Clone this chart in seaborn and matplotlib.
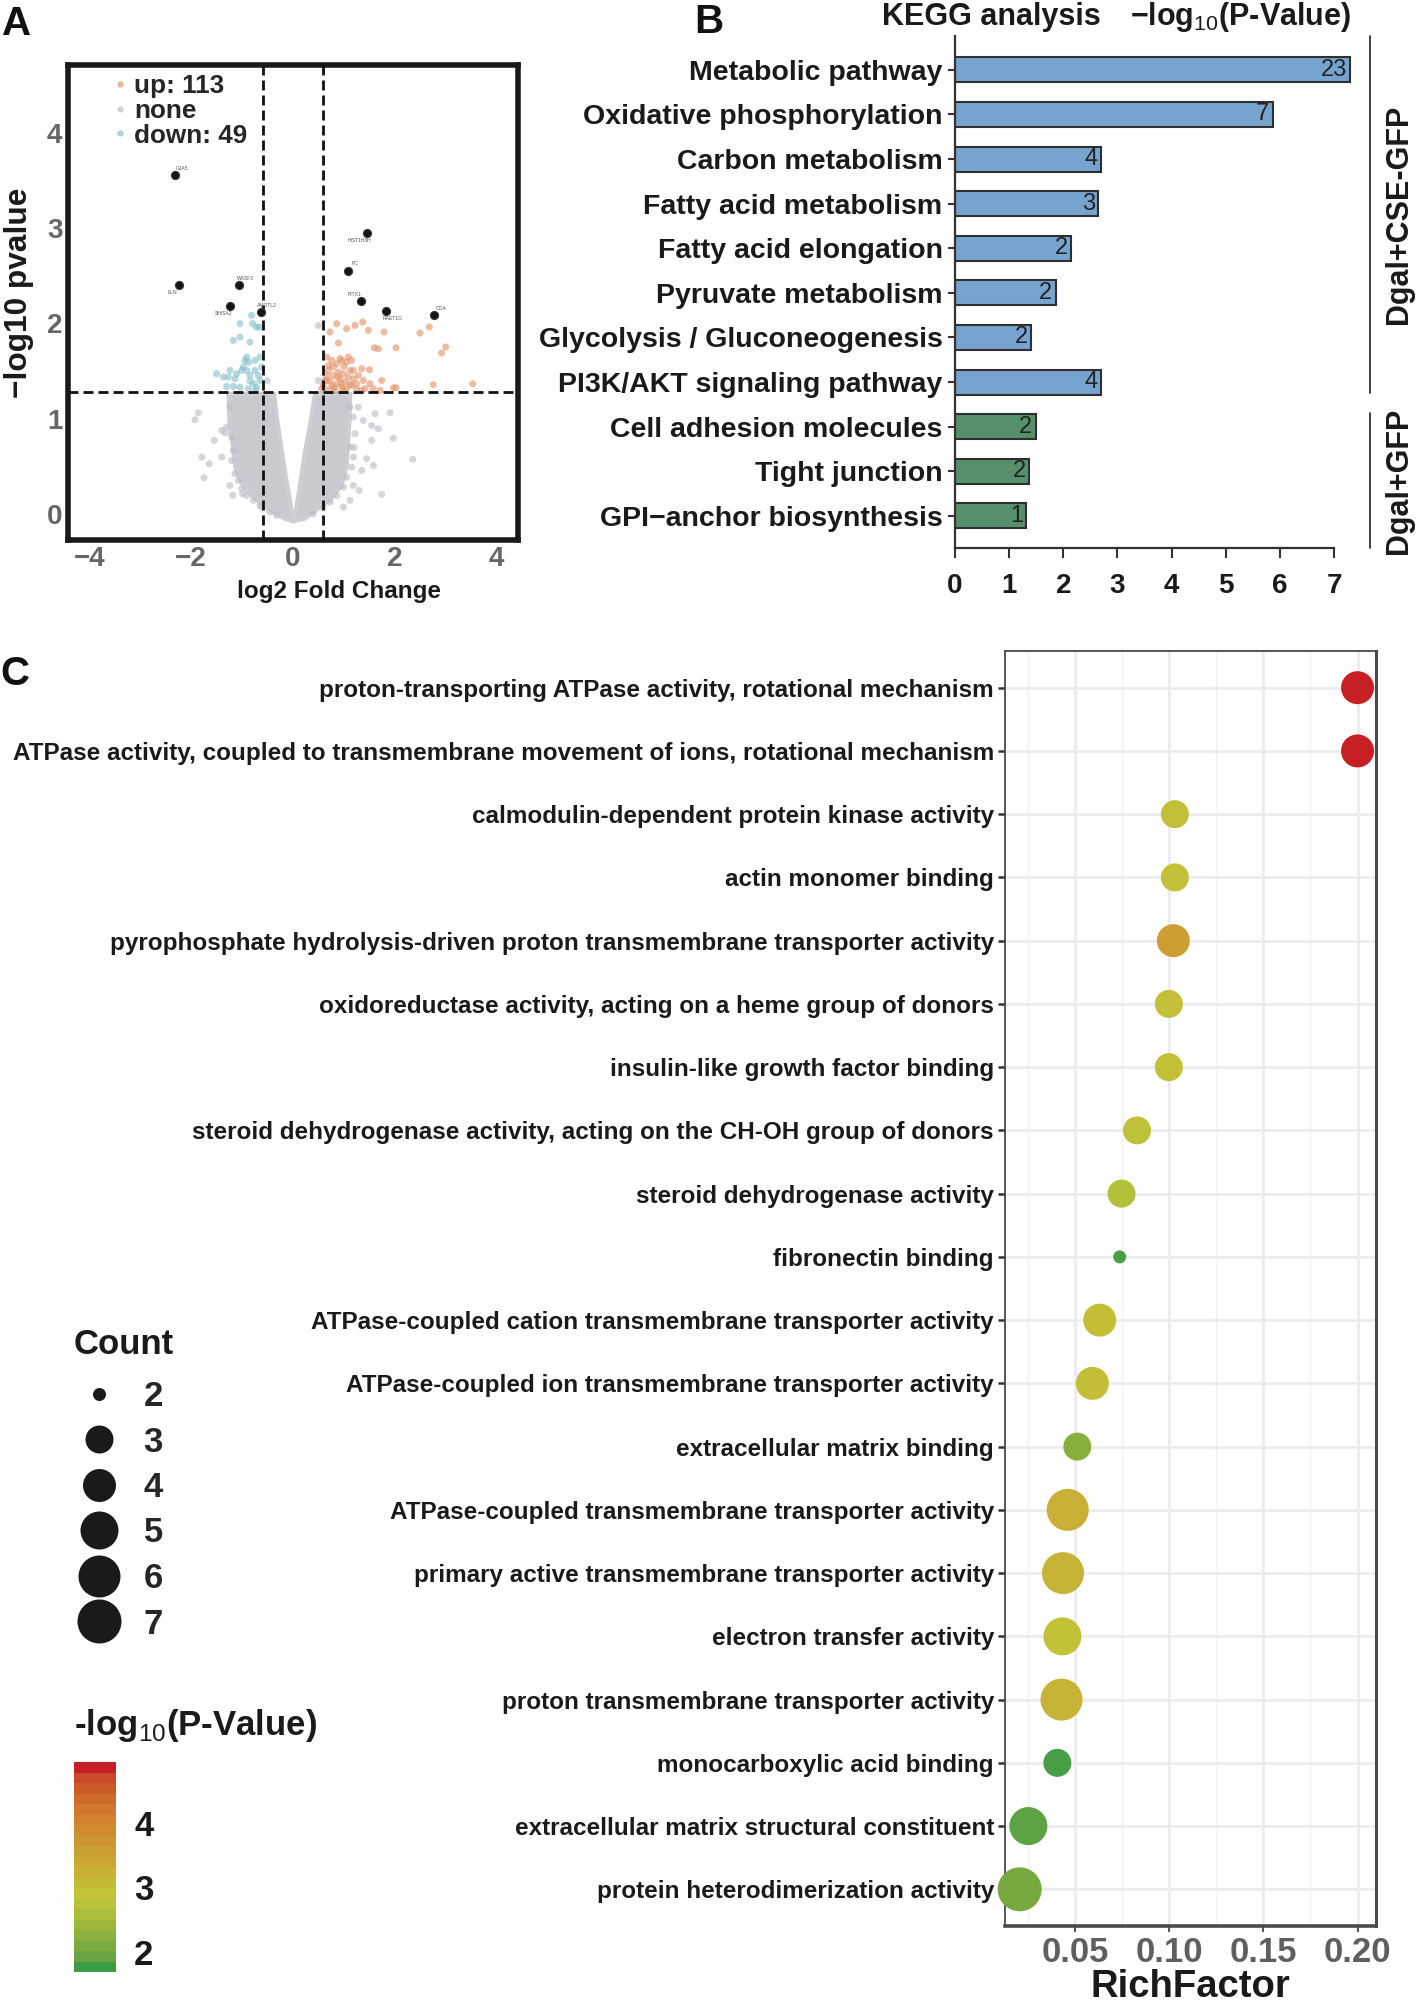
import matplotlib
matplotlib.use("Agg")
import matplotlib.pyplot as plt
import pandas as pd
import seaborn as sns
from matplotlib.colors import LinearSegmentedColormap, Normalize
from matplotlib.cm import ScalarMappable
from matplotlib.lines import Line2D

W, H = 1422, 2005

# ---------------- A: volcano ----------------
fc_cut = 0.585
p_cut = 1.28
n_up, n_down = 113, 49

up_x = [0.727, 0.858, 1.054, 1.218, 1.369, 1.480, 1.788, 2.495, 2.678, 1.598, 1.676, 2.024,
        0.891, 2.921, 2.999, 2.757, 3.530, 1.971, 2.024, 1.742, 1.513, 1.578, 1.709,
        0.661, 0.760, 0.858, 0.956, 1.054, 1.153, 1.185, 1.349, 1.500, 0.694, 0.792, 0.891,
        0.989, 1.087, 1.185, 1.284, 1.382, 0.661, 0.760, 0.858, 0.956, 1.054, 1.153, 1.251,
        1.349, 0.694, 0.825, 0.923, 1.022, 1.120, 0.792, 0.596, 0.661, 0.563, 0.989, 1.251,
        1.415, 1.087, 0.923, 0.73, 0.88, 1.00, 0.62, 0.80, 1.12, 0.70, 0.95]
up_y = [1.910, 1.998, 1.945, 1.980, 2.015, 1.928, 1.910, 1.900, 1.963, 1.746, 1.735, 1.746,
        1.795, 1.690, 1.753, 1.358, 1.368, 1.326, 1.326, 1.403, 1.368, 1.316, 1.298,
        1.648, 1.613, 1.578, 1.613, 1.595, 1.613, 1.508, 1.526, 1.515, 1.508, 1.456, 1.491,
        1.473, 1.438, 1.421, 1.456, 1.403, 1.403, 1.351, 1.368, 1.333, 1.316, 1.351, 1.316,
        1.298, 1.298, 1.298, 1.421, 1.386, 1.508, 1.543, 1.351, 1.456, 1.316, 1.298, 1.368,
        1.316, 1.648, 1.631, 1.40, 1.44, 1.55, 1.40, 1.33, 1.36, 1.56, 1.37]

down_x = [-0.812, -1.041, -0.662, -0.792, -1.172, -1.041, -0.845, -0.943, -0.878, -0.747,
          -0.648, -1.500, -1.369, -1.238, -1.271, -1.139, -0.976, -0.910, -0.845, -0.747,
          -0.681, -0.648, -1.172, -1.041, -0.878, -0.780, -0.714, -0.845, -1.303, -1.008,
          -0.615, -1.106, -0.910, -0.714, -0.74]
down_y = [2.085, 1.998, 1.962, 1.998, 1.823, 1.857, 1.805, 1.613, 1.595, 1.613,
          1.648, 1.473, 1.438, 1.508, 1.438, 1.421, 1.543, 1.508, 1.456, 1.508,
          1.456, 1.403, 1.340, 1.333, 1.316, 1.369, 1.333, 1.396, 1.340, 1.508,
          1.543, 1.473, 1.648, 1.962, 1.30]

# loose non-significant points around and along the edge of the dense cloud
none_x = [-1.86, -1.925, -1.546, -1.40, -1.79, -1.647, -1.40, -1.75, -1.24, -0.99, -0.648,
          1.906, 1.611, 1.676, 1.971, 1.545, 1.447, 2.351, 1.742, 1.349, 1.185, 1.283,
          1.381, 1.546, 1.12, 0.988, 1.578, 0.498, -0.505, 0.50, -1.33, -1.18, 1.20, 1.30,
          -1.238, -1.303, -1.205, -1.172, -1.205, -1.139, -1.074, -1.009, -0.910, -0.779,
          -0.616, -0.452, -0.321, 1.120, 1.185, 1.218, 1.120, 1.185, 1.153, 1.054, 0.989,
          0.858, 0.727, 0.596, 0.399]
none_y = [1.064, 0.990, 0.774, 0.879, 0.599, 0.529, 0.599, 0.383, 0.302, 0.215, 0.092,
          1.064, 1.054, 0.897, 0.798, 0.774, 0.582, 0.578, 0.208, 0.459, 0.302, 1.123,
          0.984, 0.931, 0.145, 0.075, 0.512, 1.98, 1.40, 1.40, 0.85, 0.20, 0.70, 0.25,
          1.124, 0.914, 0.809, 0.669, 0.564, 0.424, 0.354, 0.267, 0.197, 0.145,
          0.075, 0.022, -0.013, 1.124, 1.019, 0.844, 0.704, 0.599, 0.494, 0.389, 0.285,
          0.197, 0.127, 0.075, 0.005]

# dense part of the non-significant cloud, traced as two outlines (the V arms)
left_arm_x = [-1.27, -1.25, -1.19, -1.13, -0.98, -0.76, -0.50, -0.15, 0.0,
              -0.05, -0.14, -0.23, -0.31, -0.37]
left_arm_y = [1.26, 0.98, 0.74, 0.49, 0.30, 0.17, 0.06, -0.05, -0.07,
              0.11, 0.39, 0.70, 0.98, 1.26]
right_arm_x = [0.0, 0.22, 0.50, 0.76, 0.95, 1.05, 1.08, 1.11, 1.12,
               0.43, 0.35, 0.25, 0.16, 0.08]
right_arm_y = [-0.07, -0.05, 0.06, 0.17, 0.30, 0.49, 0.74, 0.98, 1.26,
               1.26, 0.98, 0.70, 0.39, 0.11]

genes = ["GJA5", "ELN", "WASF3", "SHISA2", "AMOTL2", "HIST1H3H", "PC", "PITX1", "RAET1G", "CGA"]
gene_x = [-2.318, -2.24, -1.067, -1.231, -0.635, 1.447, 1.087, 1.336, 1.821, 2.777]
gene_y = [3.553, 2.407, 2.40, 2.186, 2.116, 2.945, 2.553, 2.232, 2.13, 2.088]
gene_offset = [(4.8, 4.8), (-4.8, -5.8), (5, 4.8), (-4.6, -5.3), (4.3, 5),
               (-5.3, -5), (4.8, 5), (-4.6, 5), (4.6, -5), (4.6, 4.6)]

# ---------------- B: KEGG ----------------
kegg_terms = ["Metabolic pathway", "Oxidative phosphorylation", "Carbon metabolism",
              "Fatty acid metabolism", "Fatty acid elongation", "Pyruvate metabolism",
              "Glycolysis / Gluconeogenesis", "PI3K/AKT signaling pathway",
              "Cell adhesion molecules", "Tight junction", "GPI\u2212anchor biosynthesis"]
kegg_logp = [7.30, 5.87, 2.70, 2.65, 2.15, 1.86, 1.41, 2.70, 1.49, 1.37, 1.32]
kegg_count = [23, 7, 4, 3, 2, 2, 2, 4, 2, 2, 1]
kegg_group = ["Dgal+CSE-GFP"] * 8 + ["Dgal+GFP"] * 3

# ---------------- C: GO dot plot ----------------
go_terms = [
    "proton-transporting ATPase activity, rotational mechanism",
    "ATPase activity, coupled to transmembrane movement of ions, rotational mechanism",
    "calmodulin-dependent protein kinase activity",
    "actin monomer binding",
    "pyrophosphate hydrolysis-driven proton transmembrane transporter activity",
    "oxidoreductase activity, acting on a heme group of donors",
    "insulin-like growth factor binding",
    "steroid dehydrogenase activity, acting on the CH-OH group of donors",
    "steroid dehydrogenase activity",
    "fibronectin binding",
    "ATPase-coupled cation transmembrane transporter activity",
    "ATPase-coupled ion transmembrane transporter activity",
    "extracellular matrix binding",
    "ATPase-coupled transmembrane transporter activity",
    "primary active transmembrane transporter activity",
    "electron transfer activity",
    "proton transmembrane transporter activity",
    "monocarboxylic acid binding",
    "extracellular matrix structural constituent",
    "protein heterodimerization activity",
]
go_rich = [0.200, 0.200, 0.103, 0.103, 0.1022, 0.0998, 0.0998, 0.0829, 0.0747, 0.0737,
           0.0631, 0.0592, 0.0512, 0.0461, 0.0436, 0.0433, 0.0428, 0.0406, 0.0252, 0.0206]
go_logp = [4.96, 4.96, 2.95, 2.95, 3.57, 2.95, 2.95, 2.80, 2.65, 1.72,
           3.00, 3.00, 2.17, 3.27, 3.20, 2.90, 3.20, 1.72, 1.82, 2.00]
go_count = [4, 4, 3, 3, 4, 3, 3, 3, 3, 2, 4, 4, 3, 6, 6, 5, 6, 3, 5, 7]

# ---------------- style ----------------
sns.set_style("white")
plt.rcParams["font.family"] = ["Liberation Sans", "DejaVu Sans"]
plt.rcParams["mathtext.fontset"] = "custom"
plt.rcParams["mathtext.rm"] = "Liberation Sans"

grad_colors = ["#3e9c46", "#68a542", "#7aab40", "#8cb13d", "#9cb73c", "#abbd3a", "#b9c238",
               "#c2c337", "#c5ba36", "#c8b135", "#cba834", "#cc9f33", "#ce9632", "#cf8c30",
               "#d0822f", "#cf772e", "#ce6a2c", "#cc5b2a", "#c94a28", "#c62025"]
cmap = LinearSegmentedColormap.from_list("gyr", grad_colors)
p_lo, p_hi = 1.68, 4.96
diam_px = {2: 13, 3: 28, 4: 33, 5: 38, 6: 42, 7: 44}
size_map = {k: (v / 1.389) ** 2 for k, v in diam_px.items()}

fig = plt.figure(figsize=(W / 100, H / 100), dpi=100)


def fax(left, top, right, bottom):
    return fig.add_axes([left / W, 1 - bottom / H, (right - left) / W, (bottom - top) / H])


# ===== Panel A =====
axA = fax(68, 65, 518, 540)
dfA = pd.DataFrame({
    "log2fc": none_x + up_x + down_x,
    "logp": none_y + up_y + down_y,
    "group": ["none"] * len(none_x) + ["up"] * len(up_x) + ["down"] * len(down_x),
})
pal_A = {"up": "#e3946a", "none": "#bcbcc6", "down": "#86c0cb"}
axA.fill(left_arm_x, left_arm_y, color="#c9c9d0", lw=3, ec="#cdcdd4", zorder=1)
axA.fill(right_arm_x, right_arm_y, color="#c9c9d0", lw=3, ec="#cdcdd4", zorder=1)
sns.scatterplot(data=dfA, x="log2fc", y="logp", hue="group", palette=pal_A, s=26,
                alpha=0.62, linewidth=0, legend=False, ax=axA, zorder=2)
sns.scatterplot(x=gene_x, y=gene_y, color="#151515", s=34, edgecolor="#3a3a3a",
                linewidth=0.8, legend=False, ax=axA, zorder=4)
for g, gx, gy, off in zip(genes, gene_x, gene_y, gene_offset):
    axA.annotate(g, (gx, gy), xytext=off, textcoords="offset points", ha="center",
                 va="center", fontsize=3.6, color="#555555", zorder=5)
dash = (0, (3.6, 1.8))
for xv in (-fc_cut, fc_cut):
    axA.axvline(xv, color="#111111", lw=2, ls=dash, zorder=3)
axA.axhline(p_cut, color="#111111", lw=2, ls=dash, zorder=3)
axA.set_xlim(-4.42, 4.42)
axA.set_ylim(-0.27, 4.71)
axA.set_xticks([-4, -2, 0, 2, 4])
axA.set_yticks([0, 1, 2, 3, 4])
axA.set_xticklabels(["\u22124", "\u22122", "0", "2", "4"])
axA.tick_params(labelsize=20, labelcolor="#666666", color="#8a8a8a", length=4, width=2,
                direction="inout", pad=2)
for t in axA.get_xticklabels() + axA.get_yticklabels():
    t.set_fontweight("bold")
for sp in axA.spines.values():
    sp.set_visible(True)
    sp.set_linewidth(4)
    sp.set_color("#1a1a1a")
axA.set_xlabel("log2 Fold Change", fontsize=17.5, fontweight="bold", color="#1a1a1a")
axA.xaxis.set_label_coords((339 - 68) / 450, -0.085)
axA.set_ylabel("\u2212log10 pvalue", fontsize=22.8, fontweight="bold", color="#1a1a1a")
axA.yaxis.set_label_coords(-0.075, 0.52)
handA = [Line2D([], [], marker="o", ls="", color=pal_A[k], alpha=0.6, markersize=3.5)
         for k in ("up", "none", "down")]
axA.legend(handA, [f"up: {n_up}", "none", f"down: {n_down}"], loc="upper left",
           bbox_to_anchor=(112 / W, 1 - 74 / H), bbox_transform=fig.transFigure,
           frameon=False, prop={"weight": "bold", "size": 18.8}, labelspacing=0.03,
           handlelength=0.6, handletextpad=0.25, borderpad=0, borderaxespad=0)

# ===== Panel B =====
axB = fax(955, 36, 1353, 548)
dfB = pd.DataFrame({"term": kegg_terms, "logp": kegg_logp, "group": kegg_group})
sns.barplot(data=dfB, x="logp", y="term", hue="group", order=kegg_terms,
            palette={"Dgal+CSE-GFP": "#69a5dc", "Dgal+GFP": "#4c9a69"}, dodge=False,
            width=0.56, edgecolor="#2f2f2f", linewidth=1.5, legend=False, orient="h", ax=axB)
for i, (v, c) in enumerate(zip(kegg_logp, kegg_count)):
    axB.annotate(str(c), (v, i), xytext=(-2.5, 0), textcoords="offset points", ha="right",
                 va="center", fontsize=17, color="#222222",
                 family=["Liberation Sans Narrow", "Liberation Sans"])
axB.set_xlim(0, 7.35)
axB.set_ylim(10.72, -0.76)
axB.set_xticks(range(8))
axB.set_xlabel("")
axB.set_ylabel("")
for s in ("top", "right"):
    axB.spines[s].set_visible(False)
for s in ("left", "bottom"):
    axB.spines[s].set_linewidth(1.6)
    axB.spines[s].set_color("#333333")
axB.spines["bottom"].set_bounds(0, 7)
axB.tick_params(axis="y", labelsize=20.5, length=5, width=1.5, color="#333333", pad=4, left=True)
axB.tick_params(axis="x", labelsize=20, length=7, width=1.5, color="#333333", pad=11, bottom=True)
for t in axB.get_xticklabels() + axB.get_yticklabels():
    t.set_fontweight("bold")
    t.set_color("#1a1a1a")
fig.text(991 / W, 1 - 17 / H, "KEGG analysis", ha="center", va="center", fontsize=22,
         fontweight="bold", color="#1a1a1a")
fig.text(1241 / W, 1 - 17 / H, "\u2212log$_{10}$(P-Value)", ha="center", va="center",
         fontsize=22, fontweight="bold", color="#1a1a1a")
groups = list(dict.fromkeys(kegg_group))
y_top, y_bot = axB.get_ylim()[1], axB.get_ylim()[0]
cut = max(i for i, g in enumerate(kegg_group) if g == groups[0]) + 0.47
spans = [(y_top, cut - 0.23), (cut + 0.22, y_bot)]
for g, (a, b) in zip(groups, spans):
    axB.plot([7.66, 7.66], [a, b], color="#333333", lw=1.3, clip_on=False)
    axB.text(8.2, (a + b) / 2, g, rotation=90, ha="center", va="center", fontsize=22,
             fontweight="bold", color="#1a1a1a", clip_on=False)

# ===== Panel C =====
axC = fax(1005, 651, 1376, 1926)
dfC = pd.DataFrame({"term": go_terms, "rich": go_rich, "logp": go_logp, "count": go_count})
sns.scatterplot(data=dfC, x="rich", y="term", hue="logp", palette=cmap, hue_norm=(p_lo, p_hi),
                size="count", sizes=size_map, linewidth=0, legend=False, ax=axC, zorder=3,
                clip_on=False)
axC.set_xlim(0.0128, 0.2098)
axC.set_ylim(len(go_terms) - 0.42, -0.58)
axC.set_xticks([0.05, 0.10, 0.15, 0.20])
axC.set_xticks([0.025, 0.075, 0.125, 0.175], minor=True)
axC.set_xticklabels(["0.05", "0.10", "0.15", "0.20"])
axC.set_axisbelow(True)
axC.grid(which="major", color="#ebebf0", lw=1.9)
axC.grid(which="minor", axis="x", color="#f1f1f4", lw=1.0)
for s, lw in (("left", 1.3), ("top", 1.3), ("right", 2.2), ("bottom", 2.6)):
    axC.spines[s].set_visible(True)
    axC.spines[s].set_linewidth(lw)
    axC.spines[s].set_color("#4a4a4a")
axC.tick_params(axis="y", labelsize=17.5, length=5, width=1.8, color="#333333", pad=3, left=True)
axC.tick_params(axis="x", which="major", labelsize=25, labelcolor="#5f5f5f", length=4,
                width=1.5, color="#555555", pad=3, bottom=True)
axC.tick_params(axis="x", which="minor", length=0)
for t in axC.get_xticklabels() + axC.get_yticklabels():
    t.set_fontweight("bold")
for t in axC.get_yticklabels():
    t.set_color("#1a1a1a")
axC.set_ylabel("")
axC.set_xlabel("RichFactor", fontsize=27.5, fontweight="bold", color="#1a1a1a", labelpad=0)

# size legend (title drawn on its own to leave the wider gap above the keys)
fig.text(74 / W, 1 - 1345 / H, "Count", ha="left", va="center", fontsize=25,
         fontweight="bold", color="#1a1a1a")
handC = [Line2D([], [], marker="o", ls="", color="#1a1a1a", markeredgewidth=0,
                markersize=size_map[c] ** 0.5) for c in sorted(diam_px)]
fig.legend(handC, [str(c) for c in sorted(diam_px)], loc="upper left",
           bbox_to_anchor=(72 / W, 1 - 1380 / H), frameon=False,
           prop={"weight": "bold", "size": 25},
           labelspacing=0.36, handlelength=1.56, handletextpad=0.5, borderpad=0,
           borderaxespad=0)

# colour bar
cax = fax(74, 1762, 116, 1972)
sm = ScalarMappable(norm=Normalize(p_lo, p_hi), cmap=cmap.resampled(20))
cb = fig.colorbar(sm, cax=cax, ticks=[2, 3, 4])
cb.outline.set_visible(False)
cax.tick_params(direction="in", length=8, width=1.5, color="white", labelsize=25,
                labelcolor="#1a1a1a", pad=13)
for t in cax.get_yticklabels():
    t.set_fontweight("bold")
fig.text(74 / W, 1 - 1725 / H, "-log$_{10}$(P-Value)", ha="left", va="center", fontsize=25,
         fontweight="bold", color="#1a1a1a")

# panel letters
for lab, x, y in (("A", 2, 5), ("B", 694, 3), ("C", 0, 655)):
    fig.text(x / W, 1 - y / H, lab, ha="left", va="top", fontsize=29, fontweight="bold",
             color="#111111")

fig.savefig("out.png", dpi=100)
